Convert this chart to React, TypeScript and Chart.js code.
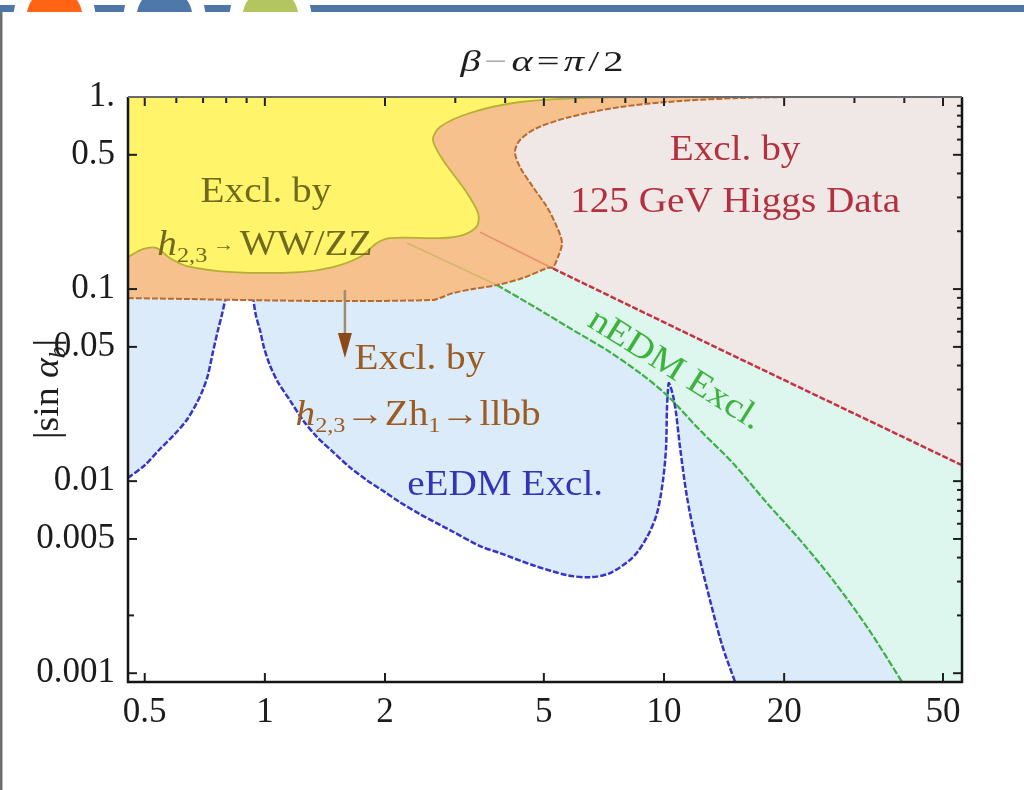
import React, { useEffect, useRef } from "react";
import { Chart, registerables } from "chart.js";

Chart.register(...registerables);

const SERIF = '"Liberation Serif", "DejaVu Serif", serif';

// ---------- axes ----------
const xRange = [0.454, 55.8];
const yRange = [0.0009, 1];
const xTickValues = [0.5, 1, 2, 5, 10, 20, 50];
const xTickLabels = ["0.5", "1", "2", "5", "10", "20", "50"];
const yTickValues = [0.001, 0.005, 0.01, 0.05, 0.1, 0.5, 1];
const yTickLabels = ["0.001", "0.005", "0.01", "0.05", "0.1", "0.5", "1."];
const xTopTicks = [0.5, 0.6, 0.7, 0.8, 0.9, 1, 2, 3, 4, 5, 6, 7, 8, 9, 10, 20, 30, 40, 50];
const yLeftTicks = [0.001, 0.002, 0.005, 0.01, 0.05, 0.1, 0.5, 1];
const yRightTicks = [
  0.001, 0.002, 0.003, 0.004, 0.005, 0.006, 0.007, 0.008, 0.009,
  0.01, 0.02, 0.03, 0.04, 0.05, 0.06, 0.07, 0.08, 0.09,
  0.1, 0.2, 0.3, 0.4, 0.5, 0.6, 0.7, 0.8, 0.9, 1,
];

// ---------- eEDM exclusion boundary (blue) ----------
const eedmLeftX = [0.454, 0.5, 0.546, 0.595, 0.637, 0.675, 0.699, 0.72, 0.741, 0.763, 0.78, 0.798, 0.803];
const eedmLeftY = [0.0104, 0.0121, 0.0147, 0.0176, 0.0208, 0.0255, 0.0298, 0.0357, 0.047, 0.0612, 0.0732, 0.0898, 0.092];
const eedmRightX = [
  0.933, 0.949, 0.972, 0.994, 1.029, 1.078, 1.155, 1.245, 1.35, 1.481, 1.633, 1.802, 1.999, 2.179,
  2.446, 2.909, 3.459, 3.882, 4.697, 5.712, 6.525, 7.322, 8.362, 9.066, 9.605, 9.942, 10.12, 10.17,
  10.23, 10.29, 10.53, 10.72, 10.97, 11.42, 12.1, 13.04, 13.98, 15.07,
];
const eedmRightY = [
  0.092, 0.0732, 0.0612, 0.0499, 0.0402, 0.0328, 0.0264, 0.0208, 0.017, 0.0142, 0.0118, 0.0101, 0.00877, 0.00777,
  0.00673, 0.00556, 0.00459, 0.00422, 0.00365, 0.00324, 0.00316, 0.00332, 0.00402, 0.00511, 0.00681, 0.0101, 0.015, 0.0234,
  0.0298, 0.0324, 0.028, 0.0226, 0.015, 0.00825, 0.00453, 0.0024, 0.0014, 0.0009,
];

// ---------- nEDM exclusion boundary (green) ----------
const nedmX = [3.815, 4.89, 5.914, 7.195, 8.709, 10.17, 12.31, 14.89, 18.12, 21.93, 26.52, 32.27, 39.5];
const nedmY = [0.105, 0.0777, 0.0612, 0.0481, 0.0365, 0.028, 0.0184, 0.0124, 0.00768, 0.00493, 0.00305, 0.00174, 0.0009];

// ---------- 125 GeV Higgs data boundary (red) ----------
const higgsX = [5.27, 10.97, 19.2, 55.8];
const higgsY = [0.128, 0.0612, 0.035, 0.0121];

// ---------- h2,3 -> Z h1 -> llbb exclusion (orange) ----------
const llbbBottomX = [0.454, 1.455, 2.637, 2.746, 2.959, 3.322, 3.815, 4.433, 5.091, 5.27];
const llbbBottomY = [0.0898, 0.0866, 0.0877, 0.0898, 0.0953, 0.1, 0.105, 0.1141, 0.1286, 0.13];
const llbbEdgeX = [5.425, 5.552, 5.393, 5.091, 4.697, 4.357, 4.232, 4.357, 4.806, 5.813, 7.759, 10.97, 15.5, 20.7];
const llbbEdgeY = [0.1468, 0.1737, 0.2104, 0.2674, 0.3398, 0.4319, 0.5171, 0.597, 0.6897, 0.7868, 0.887, 0.9532, 0.9881, 1.0];

// ---------- h2,3 -> WW/ZZ exclusion (yellow) ----------
const wwzzX = [
  0.454, 0.4946, 0.5363, 0.5778, 0.6374, 0.8313, 1.224, 1.481, 1.73, 1.909, 2.057, 2.746,
  3.135, 3.4, 3.42, 3.172, 2.794, 2.637, 2.746, 3.265, 4.357, 6.16, 8.217,
];
const wwzzY = [
  0.1468, 0.1616, 0.1635, 0.145, 0.1318, 0.1226, 0.1226, 0.1302, 0.1468, 0.1737, 0.1843, 0.1843,
  0.1911, 0.2129, 0.2488, 0.328, 0.4697, 0.597, 0.6978, 0.8254, 0.9418, 0.9881, 1.0,
];

// faint continuations seen through the orange band
const fadedRedX = [3.459, 5.27];
const fadedRedY = [0.198, 0.128];
const fadedGreenX = [2.27, 3.815];
const fadedGreenY = [0.1737, 0.105];

// ---------- annotations ----------
type Run = { t: string; it?: boolean; sub?: boolean; k?: number; c?: string; dy?: number };
const noteX = [1.006, 1.0, 2.446, 2.42, 4.0, 15.07, 15.07, 10.72];
const noteY = [0.328, 0.1737, 0.0442, 0.0226, 0.00976, 0.5425, 0.2908, 0.0388];
const noteRuns: Run[][] = [
  [{ t: "Excl. by" }],
  [{ t: "h", it: true }, { t: "2,3", sub: true }, { t: " \u2192 ", k: 0.55, dy: -0.1 }, { t: "WW/ZZ" }],
  [{ t: "Excl. by" }],
  [{ t: "h", it: true }, { t: "2,3", sub: true }, { t: "\u2192" }, { t: "Zh" }, { t: "1", sub: true }, { t: "\u2192" }, { t: "llbb" }],
  [{ t: "eEDM Excl." }],
  [{ t: "Excl. by" }],
  [{ t: "125 GeV Higgs Data" }],
  [{ t: "nEDM Excl." }],
];
const noteColors = ["#6f6a1d", "#6f6a1d", "#9a5c22", "#9a5c22", "#3434b8", "#b3303f", "#b3303f", "#3db33d"];
const noteAngles = [0, 0, 0, 0, 0, 0, 0, 0.56];
const arrowX = [1.587];
const arrowY = [0.0988, 0.059, 0.0437];
const titleRuns: Run[] = [
  { t: "\u03b2", it: true },
  { t: "\u2212", c: "#a8a8a8" },
  { t: "\u03b1", it: true },
  { t: "=" },
  { t: "\u03c0", it: true },
  { t: "/" },
  { t: "2" },
];
const yTitleRuns: Run[] = [{ t: "|sin " }, { t: "\u03b1", it: true }, { t: "b", sub: true, it: true }, { t: "|" }];

type P = { x: number; y: number };
const pts = (xs: number[], ys: number[]): P[] => xs.map((x, i) => ({ x, y: ys[i] }));
// repeat the end points so that the smoothed curve meets straight pieces without bending them
const ends = (p: P[]): P[] => [p[0], ...p, p[p.length - 1]];
const corner = (x: number, y: number): P[] => [{ x, y }, { x, y }];

function drawRuns(
  ctx: CanvasRenderingContext2D, runs: Run[], cx: number, cy: number, size: number,
  color: string, sx = 1.1, angle = 0, gap = 0
) {
  ctx.save();
  ctx.translate(cx, cy);
  if (angle) ctx.rotate(angle);
  ctx.scale(sx, 1);
  const font = (r: Run) =>
    `${r.it ? "italic " : ""}${(size * (r.sub ? 0.62 : r.k ?? 1)).toFixed(1)}px ${SERIF}`;
  const ws = runs.map((r) => {
    ctx.font = font(r);
    return ctx.measureText(r.t).width;
  });
  const total = ws.reduce((a, b) => a + b, 0) + gap * (runs.length - 1);
  let px = -total / 2;
  ctx.textAlign = "left";
  ctx.textBaseline = "alphabetic";
  runs.forEach((r, i) => {
    ctx.font = font(r);
    ctx.fillStyle = r.c ?? color;
    const dy = (r.sub ? size * 0.2 : 0) + (r.dy ?? 0) * size;
    ctx.fillText(r.t, px, size * 0.33 + dy);
    px += ws[i] + gap;
  });
  ctx.restore();
}

const decorPlugin = {
  id: "decor",
  beforeDraw(chart: any) {
    const ctx: CanvasRenderingContext2D = chart.ctx;
    ctx.save();
    ctx.fillStyle = "#ffffff";
    ctx.fillRect(0, 0, chart.width, chart.height);
    ctx.fillStyle = "#4e77a8";
    ctx.fillRect(0, 5, chart.width, 7);
    const circles = [
      [54.5, "#ff6414"],
      [164.5, "#4f78aa"],
      [270.5, "#b2c55e"],
    ] as [number, string][];
    ctx.beginPath();
    ctx.rect(0, 0, chart.width, 12);
    ctx.clip();
    for (const [cx, col] of circles) {
      ctx.fillStyle = "#ffffff";
      ctx.beginPath();
      ctx.arc(cx, 16.4, 41, 0, Math.PI * 2);
      ctx.fill();
      ctx.fillStyle = col;
      ctx.beginPath();
      ctx.arc(cx, 16.4, 27.8, 0, Math.PI * 2);
      ctx.fill();
    }
    ctx.restore();
    ctx.save();
    ctx.fillStyle = "#6e6e6e";
    ctx.fillRect(0, 12, 2.5, chart.height - 12);
    ctx.restore();
  },
};

const notesPlugin = {
  id: "notes",
  afterDatasetsDraw(chart: any) {
    const ctx: CanvasRenderingContext2D = chart.ctx;
    const xs = chart.scales.x;
    const ys = chart.scales.y;
    const area = chart.chartArea;
    const ax = xs.getPixelForValue(arrowX[0]);
    const a0 = ys.getPixelForValue(arrowY[0]);
    const a1 = ys.getPixelForValue(arrowY[1]);
    const a2 = ys.getPixelForValue(arrowY[2]);
    ctx.save();
    ctx.strokeStyle = "#a08a72";
    ctx.lineWidth = 2.5;
    ctx.beginPath();
    ctx.moveTo(ax, a0);
    ctx.lineTo(ax, a1);
    ctx.stroke();
    ctx.fillStyle = "#8a4a18";
    ctx.beginPath();
    ctx.moveTo(ax - 7, a1);
    ctx.lineTo(ax + 7, a1);
    ctx.lineTo(ax, a2);
    ctx.closePath();
    ctx.fill();
    ctx.restore();
    noteRuns.forEach((runs, i) => {
      drawRuns(ctx, runs, xs.getPixelForValue(noteX[i]), ys.getPixelForValue(noteY[i]), 35, noteColors[i], 1.12, noteAngles[i]);
    });
    drawRuns(ctx, titleRuns, (area.left + area.right) / 2 - 3, 61, 30, "#1e1e1e", 1.35, 0, 3);
    drawRuns(ctx, yTitleRuns, 46, 389, 36, "#1e1e1e", 1.05, -Math.PI / 2);
  },
  afterDraw(chart: any) {
    const ctx: CanvasRenderingContext2D = chart.ctx;
    const xs = chart.scales.x;
    const ys = chart.scales.y;
    const { left, right, top, bottom } = chart.chartArea;
    ctx.save();
    ctx.strokeStyle = "#1e1e1e";
    ctx.lineWidth = 2;
    const tick = (x0: number, y0: number, x1: number, y1: number) => {
      ctx.beginPath();
      ctx.moveTo(x0, y0);
      ctx.lineTo(x1, y1);
      ctx.stroke();
    };
    for (const v of xTickValues) {
      const p = xs.getPixelForValue(v);
      tick(p, bottom, p, bottom - 9);
    }
    for (const v of xTopTicks) {
      const p = xs.getPixelForValue(v);
      const len = xTickValues.includes(v) ? 9 : 6;
      tick(p, top, p, top + len);
    }
    for (const v of yLeftTicks) {
      const p = ys.getPixelForValue(v);
      const len = yTickValues.includes(v) ? 9 : 6;
      tick(left, p, left + len, p);
    }
    for (const v of yRightTicks) {
      const p = ys.getPixelForValue(v);
      const len = yTickValues.includes(v) ? 9 : 5;
      tick(right, p, right - len, p);
    }
    ctx.lineWidth = 2.5;
    ctx.strokeStyle = "#151515";
    ctx.beginPath();
    ctx.moveTo(left, top);
    ctx.lineTo(left, bottom);
    ctx.lineTo(right, bottom);
    ctx.lineTo(right, top);
    ctx.stroke();
    ctx.strokeStyle = "#6a6a6a";
    ctx.lineWidth = 2;
    ctx.beginPath();
    ctx.moveTo(left, top);
    ctx.lineTo(right, top);
    ctx.stroke();
    ctx.restore();
  },
};

const TENSION = 0.3;
const fillDs = (data: P[], color: string, order: number) => ({
  data,
  showLine: true,
  fill: "shape",
  tension: TENSION,
  backgroundColor: color,
  borderColor: "rgba(0,0,0,0)",
  borderWidth: 0,
  pointRadius: 0,
  pointHoverRadius: 0,
  order,
});
const lineDs = (data: P[], color: string, width: number, order: number, dash: number[] = []) => ({
  data,
  showLine: true,
  fill: false,
  tension: TENSION,
  borderColor: color,
  borderWidth: width,
  borderDash: dash,
  pointRadius: 0,
  pointHoverRadius: 0,
  order,
});

export default function App() {
  const ref = useRef<HTMLCanvasElement>(null);
  useEffect(() => {
    const [xMin, xMax] = xRange;
    const [yMin, yMax] = yRange;
    const eLeft = ends(pts(eedmLeftX, eedmLeftY));
    const eRight = ends(pts(eedmRightX, eedmRightY));
    const nedm = ends(pts(nedmX, nedmY));
    const higgs = ends(pts(higgsX, higgsY));
    const llbbOutline = ends([...pts(llbbBottomX, llbbBottomY), ...pts(llbbEdgeX, llbbEdgeY)]);
    const llbbEdgeRev = ends(pts(llbbEdgeX, llbbEdgeY).reverse());
    const wwzz = ends(pts(wwzzX, wwzzY));

    const eedmFill = [...corner(xMin, yMax), ...eLeft, ...eRight, ...corner(xMax, yMin), ...corner(xMax, yMax)];
    const nedmFill = [...nedm, ...corner(xMax, yMin), ...corner(xMax, yMax), ...corner(nedmX[0], yMax)];
    const higgsFill = [...higgs, ...corner(xMax, yMax), ...llbbEdgeRev];
    const llbbFill = [...corner(xMin, yMax), ...llbbOutline];
    const wwzzFill = [...corner(xMin, yMax), ...wwzz];

    const chart = new Chart(ref.current as HTMLCanvasElement, {
      type: "scatter",
      data: {
        datasets: [
          fillDs(eedmFill, "#dcebfa", 20),
          fillDs(nedmFill, "#ddf6ee", 19),
          fillDs(higgsFill, "#f0e8e6", 18),
          lineDs(eLeft, "#3535c6", 2.5, 15, [6, 2]),
          lineDs(eRight, "#3535c6", 2.5, 15, [6, 2]),
          lineDs(nedm, "#3cb043", 2.2, 14, [7, 2]),
          lineDs(higgs, "#c4333f", 2.5, 13, [6, 2]),
          fillDs(llbbFill, "#f6c18d", 10),
          lineDs(llbbOutline, "#b8692c", 2, 9, [6, 2]),
          lineDs(pts(fadedRedX, fadedRedY), "rgba(215,80,70,0.45)", 1.5, 8),
          lineDs(pts(fadedGreenX, fadedGreenY), "rgba(160,170,60,0.4)", 1.5, 8),
          fillDs(wwzzFill, "#fff46a", 6),
          lineDs(wwzz, "#b5b032", 1.8, 5),
        ] as any,
      },
      options: {
        animation: false,
        responsive: false,
        devicePixelRatio: 1,
        events: [],
        layout: { padding: { left: 8, right: 62, top: 97, bottom: 48 } },
        plugins: { legend: { display: false }, tooltip: { enabled: false }, title: { display: false } },
        scales: {
          x: {
            type: "logarithmic",
            min: xMin,
            max: xMax,
            bounds: "data",
            grid: { display: false, drawTicks: false },
            border: { display: false },
            afterBuildTicks: (s: any) => {
              s.ticks = xTickValues.map((v) => ({ value: v }));
            },
            afterFit: (s: any) => {
              s.height = 60;
            },
            ticks: {
              autoSkip: false,
              maxRotation: 0,
              minRotation: 0,
              padding: 10,
              color: "#1c1c1c",
              font: { family: SERIF, size: 35 },
              callback: (_v: any, i: number) => xTickLabels[i],
            },
          },
          y: {
            type: "logarithmic",
            min: yMin,
            max: yMax,
            bounds: "data",
            grid: { display: false, drawTicks: false },
            border: { display: false },
            afterBuildTicks: (s: any) => {
              s.ticks = yTickValues.map((v) => ({ value: v }));
            },
            afterFit: (s: any) => {
              s.width = 120;
            },
            ticks: {
              autoSkip: false,
              padding: 13,
              color: "#1c1c1c",
              font: { family: SERIF, size: 35 },
              callback: (_v: any, i: number) => yTickLabels[i],
            },
          },
        },
      } as any,
      plugins: [decorPlugin, notesPlugin],
    });
    return () => chart.destroy();
  }, []);
  return (
    <div style={{ position: "fixed", left: 0, top: 0, width: 1024, height: 790, background: "#fff" }}>
      <canvas ref={ref} width={1024} height={790} style={{ display: "block" }} />
    </div>
  );
}
